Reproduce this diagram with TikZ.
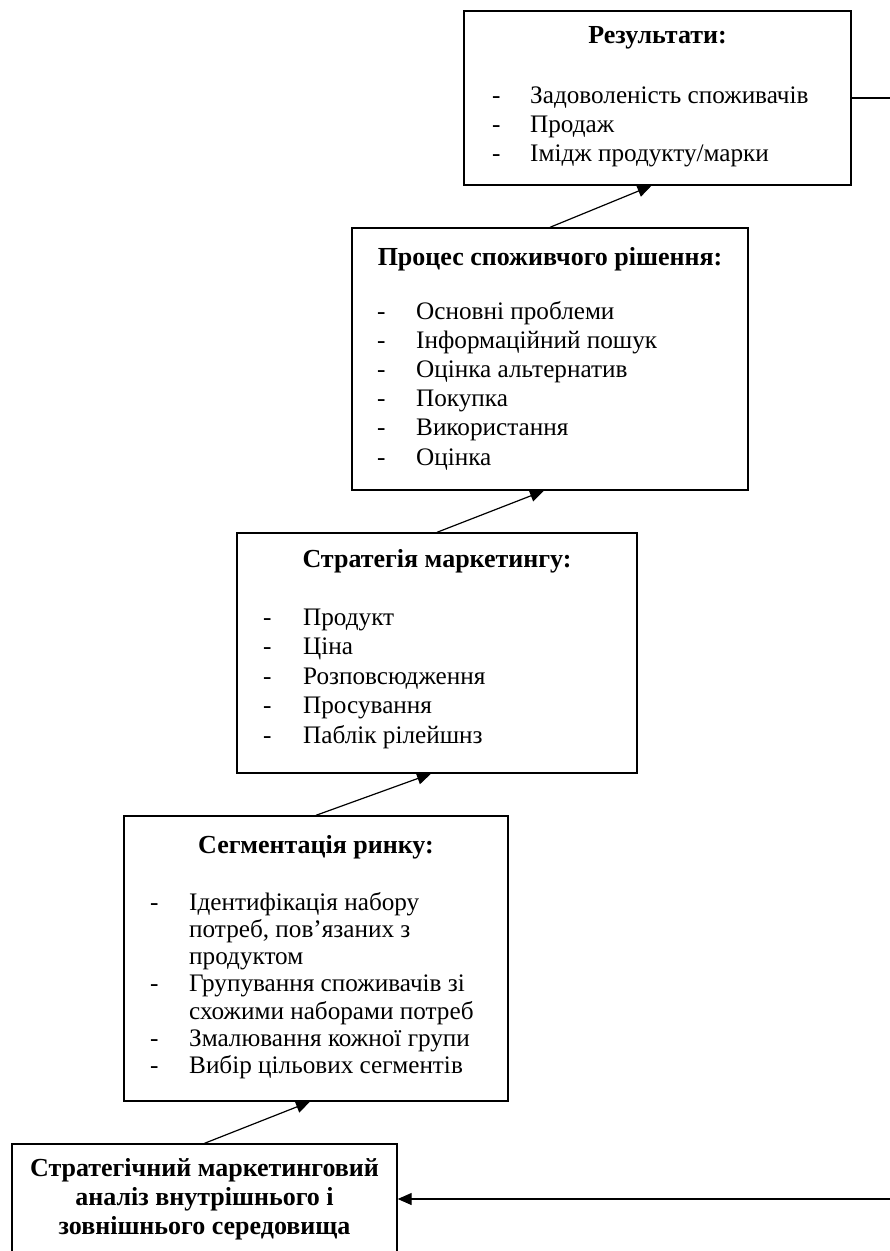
\documentclass[tikz,border=0pt]{standalone}
\usepackage{fontspec}
\setmainfont{Liberation Serif}
\usetikzlibrary{arrows.meta}
\begin{document}
\begin{tikzpicture}[x=1pt,y=-1pt,
  box/.style={draw, line width=1.4pt, inner sep=0pt, rectangle},
  conn/.style={line width=1.2pt, -{Triangle[length=14pt,width=12pt]}},
  ttl/.style={font={\fontsize{26}{29}\selectfont\bfseries}, anchor=base, inner sep=0pt},
  itm/.style={font={\fontsize{25.2}{29}\selectfont}, anchor=base west, inner sep=0pt},
]
\useasboundingbox (0,0) rectangle (890,1251);
\clip (0,0) rectangle (890,1251);

% boxes
\node[box, minimum width=387pt, minimum height=174pt] (b1) at (657.5,98) {};
\node[box, minimum width=396pt, minimum height=262pt] (b2) at (550,359) {};
\node[box, minimum width=400pt, minimum height=240pt] (b3) at (437,653) {};
\node[box, minimum width=384pt, minimum height=285pt] (b4) at (316,958.5) {};
\node[box, minimum width=385pt, minimum height=110pt] (b5) at (204.5,1199) {};

% box 1
\node[ttl] (b1t) at (657.5,43) {Результати:};
\foreach \t [count=\i] in {Задоволеність споживачів, Продаж, Імідж продукту/марки} {
  \node[itm] (b1d\i) at (492,{103+29*(\i-1)}) {-};
  \node[itm] (b1i\i) at (530,{103+29*(\i-1)}) {\t};
}

% box 2
\node[ttl] (b2t) at (550,265) {Процес споживчого рішення:};
\foreach \t [count=\i] in {Основні проблеми, Інформаційний пошук, Оцінка альтернатив, Покупка, Використання, Оцінка} {
  \node[itm] (b2d\i) at (377,{319+29.2*(\i-1)}) {-};
  \node[itm] (b2i\i) at (416,{319+29.2*(\i-1)}) {\t};
}

% box 3
\node[ttl] (b3t) at (437,567) {Стратегія маркетингу:};
\foreach \t [count=\i] in {Продукт, Ціна, Розповсюдження, Просування, Паблік рілейшнз} {
  \node[itm] (b3d\i) at (263,{625+29.5*(\i-1)}) {-};
  \node[itm] (b3i\i) at (303,{625+29.5*(\i-1)}) {\t};
}

% box 4
\node[ttl] (b4t) at (316,853) {Сегментація ринку:};
\node[itm] (b4d1) at (150,910) {-};
\node[itm] (b4l1) at (189,910) {Ідентифікація набору};
\node[itm] (b4l2) at (189,937.3) {потреб, пов’язаних з};
\node[itm] (b4l3) at (189,964.6) {продуктом};
\node[itm] (b4d2) at (150,991.9) {-};
\node[itm] (b4l4) at (189,991.9) {Групування споживачів зі};
\node[itm] (b4l5) at (189,1019.2) {схожими наборами потреб};
\node[itm] (b4d3) at (150,1046.5) {-};
\node[itm] (b4l6) at (189,1046.5) {Змалювання кожної групи};
\node[itm] (b4d4) at (150,1073.8) {-};
\node[itm] (b4l7) at (189,1073.8) {Вибір цільових сегментів};

% box 5
\node[font={\fontsize{26}{29}\selectfont\bfseries}, align=center, inner sep=0pt] (b5t) at (204.5,1199)
  {Стратегічний маркетинговий\\аналіз внутрішнього і\\зовнішнього середовища};

% connectors
\draw[conn] (b5.north) -- ([xshift=-6pt]b4.south);
\draw[conn] (b4.north) -- ([xshift=-6pt]b3.south);
\draw[conn] (b3.north) -- ([xshift=-6pt]b2.south);
\draw[conn] (b2.north) -- ([xshift=-6pt]b1.south);
\draw[conn] (b1.east) -- ++(60,0) |- (b5.east);
\end{tikzpicture}
\end{document}
